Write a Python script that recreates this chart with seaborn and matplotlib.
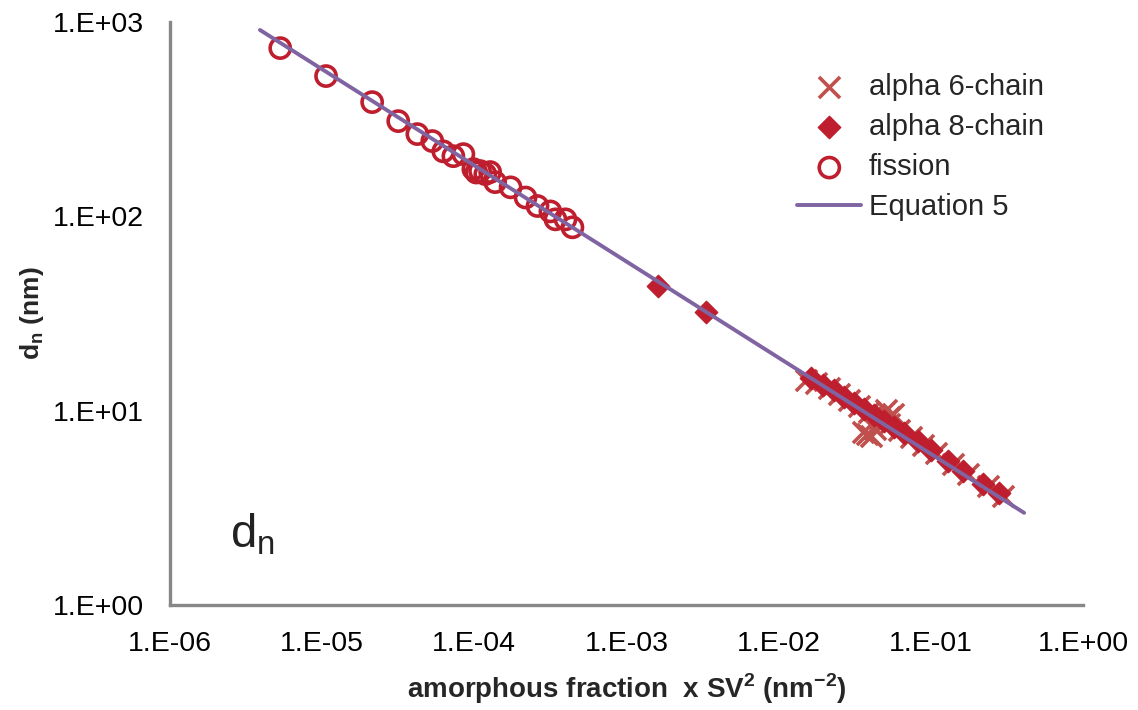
import numpy as np
import seaborn as sns
import matplotlib.pyplot as plt
from matplotlib.ticker import FuncFormatter, NullLocator

# data (log-log)
fission_x = [5.3e-6, 1.06e-5, 2.13e-5, 3.16e-5, 4.22e-5, 5.29e-5, 6.25e-5, 7.28e-5,
             8.47e-5, 9.85e-5, 1.03e-4, 1.09e-4, 1.18e-4, 1.27e-4, 1.37e-4, 1.73e-4,
             2.17e-4, 2.6e-4, 3.16e-4, 3.41e-4, 3.97e-4, 4.41e-4]
fission_y = [734, 527, 387, 309, 265, 244, 216, 204,
             209, 175, 168, 171, 165, 169, 150, 141,
             125, 113, 106, 96.5, 96.5, 87.8]

chain8_x = [1.62e-3, 3.31e-3, 1.62e-2, 1.95e-2, 2.30e-2, 2.68e-2, 3.11e-2, 3.62e-2,
            4.22e-2, 4.91e-2, 5.71e-2, 6.64e-2, 8.21e-2, 0.100, 0.129, 0.163, 0.220, 0.280]
chain8_y = [43.6, 32.0, 14.8, 13.6, 12.7, 11.8, 11.0, 10.2,
            9.54, 8.88, 8.27, 7.70, 7.0, 6.3, 5.52, 4.91, 4.2, 3.78]

chain6_x = [1.51e-2, 1.75e-2, 2.13e-2, 2.48e-2, 2.89e-2, 3.36e-2, 3.91e-2, 4.55e-2,
            5.3e-2, 6.15e-2, 7.38e-2, 8.85e-2, 0.108, 0.140, 0.175, 0.237, 0.298,
            5.06e-2, 5.62e-2, 5.3e-2, 3.57e-2, 4.03e-2, 3.8e-2, 4.3e-2]
chain6_y = [14.4, 13.9, 13.1, 12.2, 11.4, 10.6, 9.88, 9.2,
            8.57, 7.98, 7.34, 6.68, 6.08, 5.33, 4.73, 4.1, 3.65,
            10.1, 9.65, 9.3, 7.8, 7.43, 7.6, 8.0]

eq5_x = [3.9e-6, 0.41]
eq5_y = [910, 2.98]

x_ticks = [1e-6, 1e-5, 1e-4, 1e-3, 1e-2, 1e-1, 1e0]
y_ticks = [1e0, 1e1, 1e2, 1e3]

sns.set_style("white")
plt.rcParams["font.family"] = ["Liberation Sans", "DejaVu Sans"]
plt.rcParams["mathtext.fontset"] = "custom"
plt.rcParams["mathtext.rm"] = "Liberation Sans"
plt.rcParams["mathtext.bf"] = "Liberation Sans:bold"

fig = plt.figure(figsize=(11.38, 7.10), dpi=100)
ax = fig.add_axes([0.1494, 0.1479, 0.8023, 0.8211])

sns.scatterplot(x=chain6_x, y=chain6_y, marker="x", s=230, color="#C0504D",
                linewidth=2.6, label="alpha 6-chain", ax=ax, zorder=2)
sns.scatterplot(x=chain8_x, y=chain8_y, marker="D", s=130, color="#BE1E2D",
                edgecolor="#BE1E2D", linewidth=1, label="alpha 8-chain", ax=ax, zorder=3)
sns.scatterplot(x=fission_x, y=fission_y, marker="o", s=210, facecolor="none",
                edgecolor="#BE1E2D", linewidth=2.6, label="fission", ax=ax, zorder=4)
sns.lineplot(x=eq5_x, y=eq5_y, color="#8064A2", linewidth=2.8,
             label="Equation 5", ax=ax, zorder=5)

ax.set_xscale("log")
ax.set_yscale("log")
ax.set_xticks(x_ticks)
ax.set_yticks(y_ticks)
ax.set_xlim(1e-6, 1)
ax.set_ylim(1, 1e3)
ax.xaxis.set_minor_locator(NullLocator())
ax.yaxis.set_minor_locator(NullLocator())
fmt = FuncFormatter(lambda v, p: f"1.E{int(round(np.log10(v))):+03d}")
ax.xaxis.set_major_formatter(fmt)
ax.yaxis.set_major_formatter(fmt)

for side in ["top", "right"]:
    ax.spines[side].set_visible(False)
for side in ["left", "bottom"]:
    ax.spines[side].set_color("#878787")
    ax.spines[side].set_linewidth(2.4)
ax.tick_params(axis="both", which="major", direction="in", length=5, width=2.2,
               color="#878787", labelsize=20.5, labelcolor="black")
ax.tick_params(axis="y", pad=19)
ax.tick_params(axis="x", pad=19)

ax.set_xlabel(r"amorphous fraction  x SV$^\mathregular{2}$ (nm$^\mathregular{-2}$)",
              fontsize=20, fontweight="bold", labelpad=10)
ax.set_ylabel(r"d$_\mathregular{n}$ (nm)", fontsize=19, fontweight="bold", labelpad=5)

ax.text(0.066, 0.098, r"$\mathregular{d_n}$", transform=ax.transAxes,
        fontsize=34, color="#222222", va="baseline")

ax.legend(loc="upper left", bbox_to_anchor=(0.671, 0.938), frameon=False,
          fontsize=21, handlelength=2.2, handletextpad=0.25, labelspacing=0.42,
          borderpad=0)

fig.savefig("out.png", dpi=100)
